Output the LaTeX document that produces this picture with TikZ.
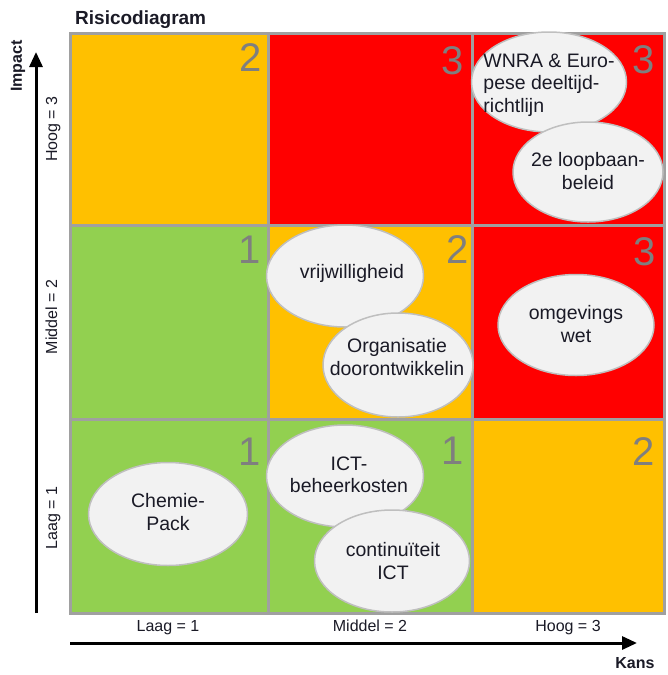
\documentclass[tikz,border=0pt]{standalone}
\usepackage{fontspec}
\setmainfont{Liberation Sans}
\usetikzlibrary{arrows.meta,shapes.geometric}
\definecolor{cOr}{HTML}{FFC000}
\definecolor{cRd}{HTML}{FF0000}
\definecolor{cGr}{HTML}{92D050}
\definecolor{cGrid}{HTML}{A0A0A0}
\definecolor{cBub}{HTML}{F2F2F2}
\definecolor{cBubLine}{HTML}{BFBFBF}
\definecolor{cNum}{HTML}{7F7F7F}
\definecolor{cTxt}{HTML}{1A1A26}
\begin{document}
\begin{tikzpicture}[x=1pt,y=-1pt,
  cellbox/.style={draw=cGrid, line width=3pt, inner sep=0pt, outer sep=0pt},
  bubble/.style={ellipse, draw=cBubLine, line width=1.5pt, fill=cBub, inner sep=0pt},
  btext/.style={align=center, font=\fontsize{19.5}{22.5}\selectfont, text=cTxt, inner sep=0pt},
  num/.style={anchor=north east, font=\fontsize{40}{40}\selectfont, text=cNum, inner sep=0pt},
  axlab/.style={font=\fontsize{16}{16}\selectfont, text=cTxt, inner sep=0pt, text height=11.5pt, text depth=3.4pt},
  axtitle/.style={font=\bfseries\fontsize{16}{16}\selectfont, text=cTxt, inner sep=0pt},
  axarrow/.style={line width=3pt, -{Triangle[length=15pt,width=13pt]}}]
\useasboundingbox (0,0) rectangle (667,675);

% title
\node[anchor=base west, font=\bfseries\fontsize{19}{19}\selectfont, text=cTxt, inner sep=0pt] (title) at (75,24) {Risicodiagram};

% cells (row 1 = top)
\node[cellbox, fill=cOr, minimum width=198pt, minimum height=192pt] (c11) at (169,129) {};
\node[cellbox, fill=cRd, minimum width=204pt, minimum height=192pt] (c12) at (370,129) {};
\node[cellbox, fill=cRd, minimum width=192pt, minimum height=192pt] (c13) at (568,129) {};
\node[cellbox, fill=cGr, minimum width=198pt, minimum height=194pt] (c21) at (169,322) {};
\node[cellbox, fill=cOr, minimum width=204pt, minimum height=194pt] (c22) at (370,322) {};
\node[cellbox, fill=cRd, minimum width=192pt, minimum height=194pt] (c23) at (568,322) {};
\node[cellbox, fill=cGr, minimum width=198pt, minimum height=194pt] (c31) at (169,516) {};
\node[cellbox, fill=cGr, minimum width=204pt, minimum height=194pt] (c32) at (370,516) {};
\node[cellbox, fill=cOr, minimum width=192pt, minimum height=194pt] (c33) at (568,516) {};

% risk numbers
\node[num] (n11) at (262,43) {2};
\node[num] (n12) at (464,46) {3};
\node[num] (n13) at (655,45) {3};
\node[num] (n21) at (261,236) {1};
\node[num] (n22) at (469,235) {2};
\node[num] (n23) at (656,237) {3};
\node[num] (n31) at (261,438) {1};
\node[num] (n32) at (464,437) {1};
\node[num] (n33) at (655,437) {2};

% bubbles
\node[bubble, minimum width=155pt, minimum height=100pt] (e1) at (549,82) {};
\node[btext, align=left] (t1) at (549,85) {WNRA \& Euro-\\pese deeltijd-\\richtlijn};
\node[bubble, minimum width=150pt, minimum height=100pt] (e2) at (588,172) {};
\node[btext] (t2) at (588,171) {2e loopbaan-\\beleid};

\node[bubble, minimum width=157pt, minimum height=102pt] (e3) at (345,276) {};
\node[btext] (t3) at (352,273) {vrijwilligheid};
\node[bubble, minimum width=150pt, minimum height=104pt] (e4) at (398,365) {};
\node[btext] (t4) at (397,357) {Organisatie\\doorontwikkelin};

\node[bubble, minimum width=156pt, minimum height=101pt] (e7) at (576,325) {};
\node[btext] (t7) at (576,324) {omgevings\\wet};

\node[bubble, minimum width=157pt, minimum height=102pt] (e5) at (345,476) {};
\node[btext] (t5) at (349,475) {ICT-\\beheerkosten};
\node[bubble, minimum width=155pt, minimum height=102pt] (e6) at (392,561) {};
\node[btext] (t6) at (393,561) {continuïteit\\ICT};

\node[bubble, minimum width=159pt, minimum height=103pt] (e8) at (168,514) {};
\node[btext] (t8) at (168,512) {Chemie-\\Pack};

% axes
\coordinate (vb) at (36,613);
\coordinate (vt) at (36,52);
\draw[axarrow] (vb) -- (vt);
\coordinate (hl) at (70,643);
\coordinate (hr) at (637,643);
\draw[axarrow] (hl) -- (hr);

\node[axtitle, rotate=90] (impact) at (18,66) {Impact};
\node[axlab, rotate=90] (yh) at (53,129) {Hoog = 3};
\node[axlab, rotate=90] (ym) at (53,317) {Middel = 2};
\node[axlab, rotate=90] (yl) at (53,518) {Laag = 1};

\node[axlab] (xl) at (168,627) {Laag = 1};
\node[axlab] (xm) at (370,627) {Middel = 2};
\node[axlab] (xh) at (568,627) {Hoog = 3};
\node[axtitle] (kans) at (635,663) {Kans};
\end{tikzpicture}
\end{document}
